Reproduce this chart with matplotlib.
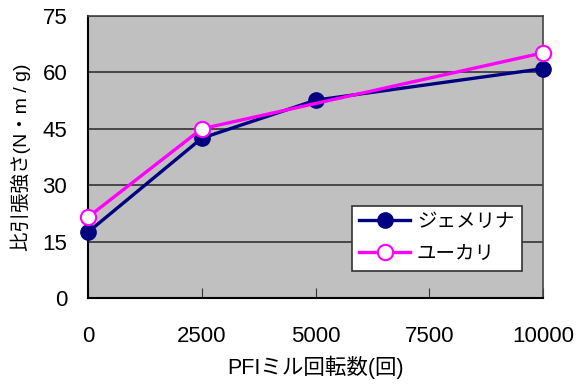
import matplotlib
matplotlib.use("Agg")
import matplotlib.pyplot as plt

plt.rcParams['font.family'] = ['Liberation Sans', 'Noto Sans CJK JP', 'DejaVu Sans']

x_gmelina = [0, 2500, 5000, 10000]
y_gmelina = [17.5, 42.5, 52.6, 61.0]
x_euca = [0, 2500, 10000]
y_euca = [21.5, 45.0, 65.2]
xticks = [0, 2500, 5000, 7500, 10000]
yticks = [0, 15, 30, 45, 60, 75]
label_g = "ジェメリナ"
label_e = "ユーカリ"
xlabel = "PFIミル回転数(回)"
ylabel = "比引張強さ(N・m / g)"

fig = plt.figure(figsize=(5.77, 3.88), dpi=100)
ax = fig.add_axes([88/577, 1-298/388, (543-88)/577, (298-16)/388])
ax.set_facecolor('#c0c0c0')
ax.set_xlim(0, 10000)
ax.set_ylim(0, 75)
ax.set_xticks(xticks)
ax.set_yticks(yticks)
ax.yaxis.grid(True, color='#333333', linewidth=1.2)
ax.set_axisbelow(True)
ax.tick_params(axis='x', direction='in', length=7, pad=20, labelsize=16, color='#333333')
ax.tick_params(axis='y', length=0, pad=15, labelsize=16)
for s in ['top', 'right']:
    ax.spines[s].set_color('#444444')
    ax.spines[s].set_linewidth(1.2)
for s in ['left', 'bottom']:
    ax.spines[s].set_color('black')
    ax.spines[s].set_linewidth(1.5)

ax.plot(x_gmelina, y_gmelina, color='#000080', lw=2.4, marker='o', ms=11,
        mfc='#000080', mec='#000080', label=label_g, clip_on=False, zorder=3)
ax.plot(x_euca, y_euca, color='#ff00ff', lw=2.4, marker='o', ms=11,
        mfc='white', mec='#ff00ff', mew=1.5, label=label_e, clip_on=False, zorder=4)

leg = ax.legend(loc='lower right', bbox_to_anchor=((522-88)/455, (298-271)/282),
                fontsize=14, frameon=True, fancybox=False, framealpha=1,
                edgecolor='#333333', borderpad=0.4, labelspacing=0.75,
                handlelength=2.6, handletextpad=0.35, borderaxespad=0)
leg.get_frame().set_linewidth(1.2)

ax.set_xlabel(xlabel, fontsize=15.5, labelpad=6)
ax.set_ylabel(ylabel, fontsize=14, labelpad=8)

fig.savefig("out.png", dpi=100)
